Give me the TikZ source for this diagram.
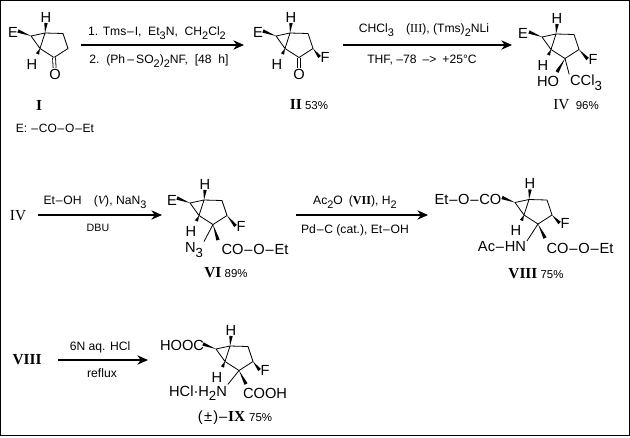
\documentclass[tikz,border=0pt]{standalone}
\usepackage{fontspec}
\setmainfont{Liberation Sans}
\newfontfamily\serifnum{Liberation Serif}
\usetikzlibrary{calc,arrows.meta}
\tikzset{
  atomtext/.style={inner sep=0.5pt,font=\fontsize{11}{12}\selectfont},
  reagent/.style={inner sep=0pt,font=\fontsize{9.1}{10}\selectfont},
  cmpd/.style={inner sep=0pt,font=\fontsize{8.6}{11}\selectfont},
  bond/.style={line width=0.6pt},
  rxnarrow/.style={line width=0.8pt,-{Stealth[length=8pt,width=7pt]}}
}
\newcommand{\lowtxt}[1]{\raisebox{-0.6ex}{\scalebox{0.9}{#1}}}
\newcommand{\cpdno}[1]{{\serifnum\bfseries\fontsize{11.5}{12}\selectfont #1}}
\newcommand{\cpdlt}[1]{{\serifnum\fontsize{11.5}{12}\selectfont #1}}
\newcommand{\bnd}{\kern0.6pt–\kern0.6pt}
\newcommand{\wedgebond}[2]{\fill ($(#1)$) -- ($(#2)!1.3pt!90:(#1)$) -- ($(#2)!1.3pt!-90:(#1)$) -- cycle;}
% ring skeleton: prefix, x, y of the top ring atom
\newcommand{\bicyclo}[3]{
  \coordinate (#1a) at (#2,#3);
  \coordinate (#1b) at ($(#1a)+(18,0.5)$);
  \coordinate (#1c) at ($(#1a)+(23,15.5)$);
  \coordinate (#1d) at ($(#1a)+(9,24.5)$);
  \coordinate (#1e) at ($(#1a)+(-5,15.5)$);
  \coordinate (#1f) at ($(#1a)+(-14,3)$);
  \coordinate (#1g) at ($(#1a)+(-27,-2)$);
  \coordinate (#1h) at ($(#1a)+(-7.5,21)$);
  \node[atomtext] (#1Ht) at ($(#1a)+(1,-16)$) {H};
  \node[atomtext] (#1Hb) at ($(#1a)+(-13,31)$) {H};
  \draw[bond,line join=round] (#1a) -- (#1b) -- (#1c) -- (#1d) -- (#1e) -- (#1a) -- (#1f) -- (#1e);
  \wedgebond{#1a}{#1Ht.south}
  \wedgebond{#1e}{#1h}
  \wedgebond{#1f}{#1g}
}
\begin{document}
\begin{tikzpicture}[x=0.75pt,y=-0.75pt]
  \useasboundingbox (0,0) rectangle (630,437);
  \draw[line width=1pt] (0.7,0.7) rectangle (629.3,435.6);

  % first row
  \bicyclo{one}{45}{33}
  \node[atomtext] (oneE) at (13,32) {E};
  \node[atomtext] (oneO) at (55,74) {O};
  \draw[bond,double,double distance=1.6pt] (oned) -- (oneO);
  \node[cmpd] (oneL) at (39,105) {\cpdno{I}};
  \node[cmpd] (legend) at (55,128) {\fontsize{9}{11}\selectfont E:\ \bnd CO\bnd O\bnd Et};

  \coordinate (arrA0) at (81,45);
  \coordinate (arrA1) at (244,45);
  \draw[rxnarrow] (arrA0) -- (arrA1);
  \node[reagent] (textA0) at (157,33) {1. Tms\bnd I,\ \ Et\lowtxt{3}N,\ \ CH\lowtxt{2}Cl\lowtxt{2}};
  \node[reagent] (textA1) at (159,61) {2.\ \ (Ph\kern1pt\bnd\kern1pt SO\lowtxt{2})\lowtxt{2}NF,\ \ [48\ \ h]};

  \bicyclo{two}{290}{33}
  \node[atomtext] (twoE) at (258,32) {E};
  \node[atomtext] (twoO) at (299,74) {O};
  \node[atomtext] (twoF) at (325,57) {F};
  \draw[bond,double,double distance=1.6pt] (twod) -- (twoO);
  \wedgebond{twoc}{twoF.west}
  \node[cmpd] (twoL) at (309,105) {\cpdno{II} 53\%};

  \coordinate (arrB0) at (343,45);
  \coordinate (arrB1) at (512,45);
  \draw[rxnarrow] (arrB0) -- (arrB1);
  \node[reagent] (textB0) at (424,30) {CHCl\lowtxt{3}\quad({\serifnum III}), (Tms)\lowtxt{2}NLi};
  \node[reagent] (textB1) at (422,60) {THF,\ –78\enspace –>\enspace +25°C};

  \bicyclo{four}{556}{34}
  \node[atomtext] (fourE) at (523,33) {E};
  \node[atomtext] (fourF) at (593,59) {F};
  \node[atomtext] (fourOH) at (548,81) {HO};
  \node[atomtext] (fourC) at (586,83) {CCl\lowtxt{3}};
  \coordinate (fourw) at (557,72);
  \wedgebond{fourc}{fourF.west}
  \wedgebond{fourd}{fourw}
  \draw[bond] (fourd) -- (fourC.north west);
  \node[cmpd] (fourL) at (576,105) {\cpdlt{IV}\ \ 96\%};

  % second row
  \node[atomtext] (startIV) at (18,216) {\cpdlt{IV}};
  \coordinate (arrC0) at (38,215);
  \coordinate (arrC1) at (162,215);
  \draw[rxnarrow] (arrC0) -- (arrC1);
  \node[reagent] (textC0) at (95,202) {Et\bnd OH\quad({\serifnum\itshape V}), NaN\lowtxt{3}};
  \node[reagent] (textC1) at (98,228) {\fontsize{8}{10}\selectfont DBU};

  \bicyclo{six}{204}{200}
  \node[atomtext] (sixE) at (172,200) {E};
  \node[atomtext] (sixF) at (241,226) {F};
  \node[atomtext] (sixN) at (194,250) {N\lowtxt{3}};
  \node[atomtext] (sixC) at (255,249) {CO\bnd O\bnd Et};
  \coordinate (sixw) at (218,240);
  \wedgebond{sixc}{sixF.west}
  \wedgebond{sixd}{sixw}
  \draw[bond] (sixd) -- (sixN.north east);
  \node[cmpd] (sixL) at (226,273) {\cpdno{VI} 89\%};

  \coordinate (arrD0) at (296,215);
  \coordinate (arrD1) at (428,215);
  \draw[rxnarrow] (arrD0) -- (arrD1);
  \node[reagent] (textD0) at (355,202) {Ac\lowtxt{2}O\enspace({\serifnum\bfseries VII}), H\lowtxt{2}};
  \node[reagent] (textD1) at (355,230) {Pd\bnd C (cat.), Et\bnd OH};

  \bicyclo{eight}{529}{199.5}
  \node[atomtext] (eightE) at (468,199) {Et\bnd O\bnd CO};
  \node[atomtext] (eightF) at (565,223) {F};
  \node[atomtext] (eightN) at (502,247) {Ac\bnd HN};
  \node[atomtext] (eightC) at (580,248) {CO\bnd O\bnd Et};
  \coordinate (eightw) at (545,238);
  \wedgebond{eightc}{eightF.west}
  \wedgebond{eightd}{eightw}
  \draw[bond] (eightd) -- (eightN.north east);
  \node[cmpd] (eightL) at (536,274) {\cpdno{VIII} 75\%};

  % third row
  \node[atomtext] (startVIII) at (27,360) {\cpdno{VIII}};
  \coordinate (arrE0) at (58,360);
  \coordinate (arrE1) at (148,360);
  \draw[rxnarrow] (arrE0) -- (arrE1);
  \node[reagent] (textE0) at (100,347) {6N aq. HCl};
  \node[reagent] (textE1) at (102,373) {reflux};

  \bicyclo{nine}{230}{346}
  \node[atomtext] (nineE) at (182,345) {HOOC};
  \node[atomtext] (nineF) at (265,370) {F};
  \node[atomtext] (nineN) at (198,393) {HCl·H\lowtxt{2}N};
  \node[atomtext] (nineC) at (265,393) {COOH};
  \coordinate (ninew) at (246,384);
  \wedgebond{ninec}{nineF.west}
  \wedgebond{nined}{ninew}
  \draw[bond] (nined) -- (nineN.north east);
  \node[cmpd] (nineL) at (235,418) {\fontsize{11}{12}\selectfont(\kern1pt ±\kern1pt)\bnd\cpdno{IX}\ \fontsize{8.6}{11}\selectfont 75\%};
\end{tikzpicture}
\end{document}
